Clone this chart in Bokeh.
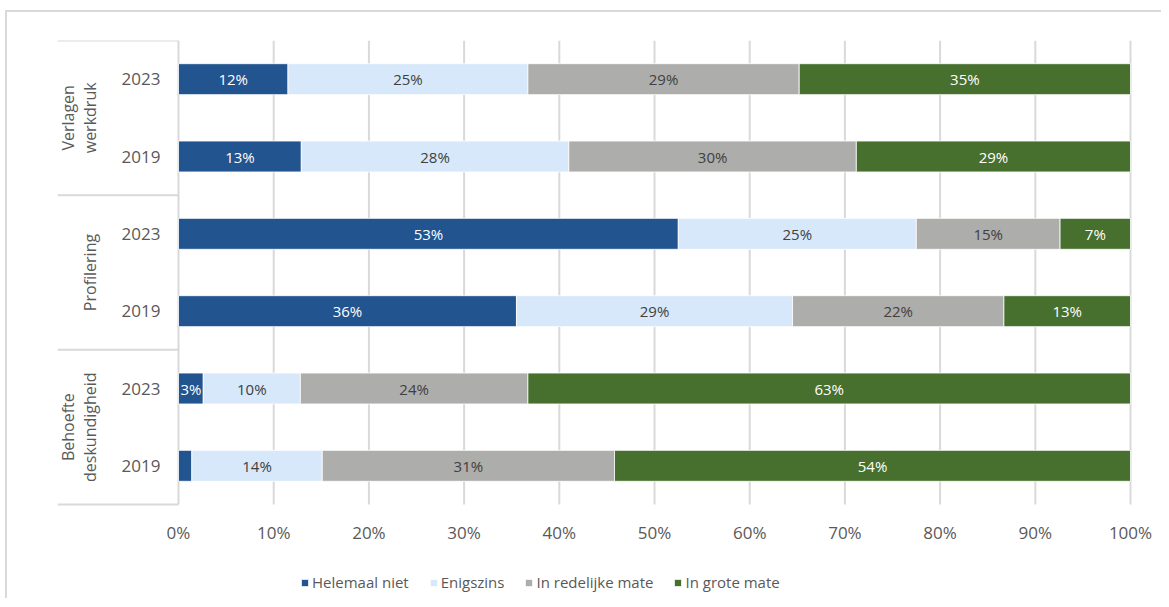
import math
from bokeh.plotting import figure
from bokeh.models import Range1d, Legend, LegendItem, ColumnDataSource
from bokeh.core.properties import value
from bokeh.embed import file_html
from bokeh.resources import INLINE

# ---- data ----
groups = ["Verlagen\nwerkdruk", "Profilering", "Behoefte\ndeskundigheid"]
years = ["2023", "2019", "2023", "2019", "2023", "2019"]
series_names = ["Helemaal niet", "Enigszins", "In redelijke mate", "In grote mate"]
helemaal_niet = [11.5, 12.9, 52.5, 35.5, 2.6, 1.4]
enigszins = [25.2, 28.1, 25.0, 29.0, 10.2, 13.7]
redelijke_mate = [28.5, 30.2, 15.1, 22.2, 23.9, 30.7]
grote_mate = [34.8, 28.8, 7.4, 13.3, 63.3, 54.2]
x_ticks = [0, 10, 20, 30, 40, 50, 60, 70, 80, 90, 100]
x_tick_labels = ["0%", "10%", "20%", "30%", "40%", "50%", "60%", "70%", "80%", "90%", "100%"]

colors = ["#22548F", "#D7E8FB", "#ADADAB", "#476F2E"]
label_colors = ["#FFFFFF", "#404040", "#404040", "#FFFFFF"]
FONT = "Open Sans"
TXT = "#595959"
GRID = "#D9D9D9"

n = len(years)
ys = [n - 0.5 - i for i in range(n)]

FRAME_H = 558
UNIT_PX = 464 / n
y_start = n - FRAME_H / UNIT_PX

p = figure(
    frame_width=1103, frame_height=FRAME_H,
    min_border_left=50, min_border_right=1, min_border_top=28, min_border_bottom=0,
    x_range=Range1d(-12.71, 103.15), y_range=Range1d(y_start, n),
    x_axis_location=None, y_axis_location=None,
    toolbar_location=None, output_backend="svg",
    outline_line_color=None,
)
p.styles = {"margin-left": "5px", "margin-top": "10px",
            "border-left": "2px solid #d9d9d9", "border-top": "2px solid #d9d9d9"}
p.xgrid.grid_line_color = None
p.ygrid.grid_line_color = None

# value gridlines (0..100 %) spanning the category rows
p.segment(x0=x_ticks, x1=x_ticks, y0=[0] * len(x_ticks), y1=[n] * len(x_ticks),
          line_color=GRID, line_width=2)

# value tick labels
p.text(x=x_ticks, y=[-0.362] * len(x_ticks), text=x_tick_labels,
       text_align="center", text_baseline="middle", text_font=value(FONT),
       text_font_size="17px", text_color=TXT)

# bars
all_series = [helemaal_niet, enigszins, redelijke_mate, grote_mate]
left = [0.0] * n
items = []
lab_x, lab_y, lab_t, lab_c = [], [], [], []
for k, vals in enumerate(all_series):
    right = [l + v for l, v in zip(left, vals)]
    src = ColumnDataSource(dict(y=ys, left=left, right=right))
    r = p.hbar(y="y", left="left", right="right", height=0.4, source=src,
               fill_color=colors[k], line_color="white", line_width=0.8)
    items.append(LegendItem(label=series_names[k], renderers=[r]))
    for i, v in enumerate(vals):
        if v >= 2:
            lab_x.append(left[i] + v / 2)
            lab_y.append(ys[i])
            lab_t.append(f"{math.floor(v + 0.5)}%")
            lab_c.append(label_colors[k])
    left = right

p.text(x=lab_x, y=lab_y, text=lab_t, text_color=lab_c, text_align="center",
       text_baseline="middle", text_font=value(FONT), text_font_size="15px")

# category axis (years)
p.text(x=[-1.9] * n, y=ys, text=years, text_align="right", text_baseline="middle",
       text_font=value(FONT), text_font_size="17px", text_color=TXT)

# group labels
ng = len(groups)
gy = [n - (2 * g + 1) for g in range(ng)]
p.text(x=[-8.1] * ng, y=gy, text=groups, angle=math.pi / 2, text_align="center",
       text_baseline="bottom", text_font=value(FONT), text_font_size="16px",
       text_color=TXT, text_line_height=1.0)

# group separators
sep_y = [n - 2 * g for g in range(ng + 1)]
p.segment(x0=[-12.71] * len(sep_y), x1=[0] * len(sep_y), y0=sep_y, y1=sep_y,
          line_color=GRID, line_width=2)

legend = Legend(items=items, orientation="horizontal", location=(243, 6),
                glyph_width=9, glyph_height=9, label_standoff=3, spacing=20,
                padding=0, margin=0, border_line_color=None,
                background_fill_alpha=0,
                label_text_font=FONT, label_text_font_size="15px",
                label_text_color=TXT)
p.add_layout(legend)

open("out.html", "w").write(file_html(p, INLINE))
